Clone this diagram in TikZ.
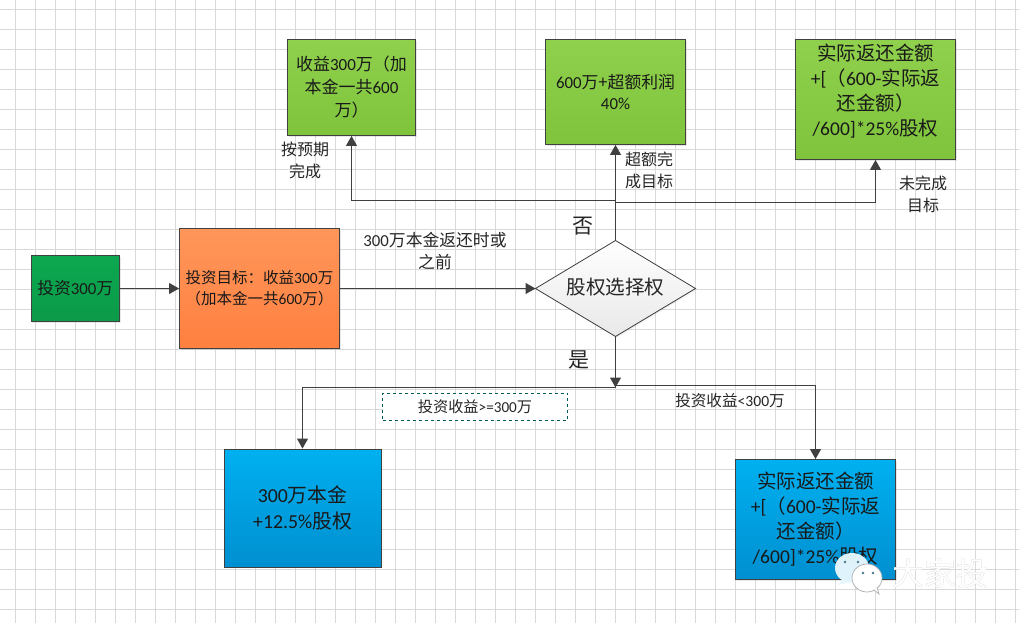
\documentclass[tikz,border=0pt]{standalone}
\usepackage{fontspec}
\setmainfont{Carlito}
\newfontfamily\cjkf{Noto Sans CJK SC}
\newcommand\C[1]{{\cjkf #1}}
\usetikzlibrary{arrows.meta,shadows}
\definecolor{gridc}{HTML}{D9D9D9}
\definecolor{linec}{HTML}{404040}
\definecolor{invT}{HTML}{0CA850}\definecolor{invB}{HTML}{0B9A49}
\definecolor{orgT}{HTML}{FF965A}\definecolor{orgB}{HTML}{FF8040}
\definecolor{grnT}{HTML}{8FD04C}\definecolor{grnB}{HTML}{7FC43C}
\definecolor{bluT}{HTML}{00B0F0}\definecolor{bluB}{HTML}{008FD0}
\tikzset{
  boxbase/.style={draw=linec,line width=0.9pt,inner sep=0pt,align=center,shape=rectangle,text=black!90,
    drop shadow={shadow xshift=1.2pt,shadow yshift=-1.2pt,opacity=0.18}},
  investbox/.style={boxbase,top color=invT,bottom color=invB},
  orangebox/.style={boxbase,top color=orgT,bottom color=orgB},
  greenbox/.style={boxbase,top color=grnT,bottom color=grnB},
  bluebox/.style={boxbase,top color=bluT,bottom color=bluB},
  conn/.style={draw=linec,line width=1pt,-{Triangle[length=10pt,width=11pt]}},
  lab/.style={inner sep=0pt,align=center,text=black!85,font=\fontsize{16}{22}\selectfont},
  bigmark/.style={inner sep=0pt,font=\fontsize{21}{22}\selectfont,text=black!85},
}
\begin{document}
\begin{tikzpicture}[x=1pt,y=-1pt]
\useasboundingbox (0,0) rectangle (1019,623);
\fill[white] (0,0) rectangle (1019,623);
\foreach \i in {0,...,50} \draw[gridc,line width=0.9pt] ({15.5+20*\i},0) -- ({15.5+20*\i},623);
\foreach \i in {0,...,30} \draw[gridc,line width=0.9pt] (0,{9.5+20*\i}) -- (1019,{9.5+20*\i});

\node[investbox,minimum width=88.5pt,minimum height=66pt,font=\fontsize{16.8}{22}\selectfont] (inv) at (75.25,288.5) {\C{投资}300\C{万}};
\node[orangebox,minimum width=160pt,minimum height=120pt,font=\fontsize{15.5}{21}\selectfont] (tgt) at (259.5,288.5) {\C{投资目标：收益}300\C{万}\\\C{（加本金一共}600\C{万）}};
\node[greenbox,minimum width=128pt,minimum height=96pt,font=\fontsize{17}{23}\selectfont] (g1) at (351.5,87.5) {\C{收益}300\C{万（加}\\\C{本金一共}600\\\C{万）}};
\node[greenbox,minimum width=140pt,minimum height=105pt,font=\fontsize{16.8}{21}\selectfont] (g2) at (615.5,92) {600\C{万+超额利润}\\40\%};
\node[greenbox,minimum width=160pt,minimum height=120pt,font=\fontsize{19.5}{25}\selectfont] (g3) at (875.5,99.5) {\C{实际返还金额}\\+[\C{（}600-\C{实际返}\\\C{还金额）}\\/600]*25\%\C{股权}\\[-6pt]\mbox{}};
\path[draw=linec,line width=0.8pt,top color=white,bottom color=gray!18,drop shadow={shadow xshift=1.2pt,shadow yshift=-1.2pt,opacity=0.12}] (535.5,288.5) -- (615.5,240.5) -- (695.5,288.5) -- (615.5,336.5) -- cycle;
\node[inner sep=0pt,font=\fontsize{19.6}{22}\selectfont,text=black!85] (dl) at (615.5,287) {\C{股权选择权}};
\coordinate (dW) at (535.5,288.5);
\coordinate (dN) at (615.5,240.5);
\coordinate (dS) at (615.5,336.5);
\node[bluebox,minimum width=157pt,minimum height=118pt,font=\fontsize{19.8}{26}\selectfont] (b1) at (302.5,508) {300\C{万本金}\\+12.5\%\C{股权}};
\node[bluebox,minimum width=160pt,minimum height=120pt,font=\fontsize{19.5}{25}\selectfont] (b2) at (815.5,519.5) {\C{实际返还金额}\\+[\C{（}600-\C{实际返}\\\C{还金额）}\\/600]*25\%\C{股权}};
\node[draw=teal!70!black,dashed,line width=0.8pt,fill=white,minimum width=185pt,minimum height=27pt,inner sep=0pt,font=\fontsize{15.2}{20}\selectfont,text=black!85] (dash) at (475,406.5) {\C{投资收益}>=300\C{万}};

\coordinate (jT) at (615.5,200.5);
\coordinate (jR) at (615.5,202.5);
\coordinate (jB) at (615.5,387.5);
\coordinate (jL) at (615.5,387.5);
\coordinate (jS) at (615.5,385.5);

\draw[conn] (inv) -- (tgt);
\draw[conn] (tgt) -- (dW);
\draw[conn] (dN) -- (g2.south);
\draw[conn] (jT) -| (g1.south);
\draw[conn] (jR) -| (g3.south);
\draw[conn] (dS) -- (jB);
\draw[conn] (jL) -| (b1.north);
\draw[conn] (jS) -| (b2.north);

\node[lab] (l1) at (305,160) {\C{按预期}\\\C{完成}};
\node[lab] (l2) at (649,170) {\C{超额完}\\\C{成目标}};
\node[lab] (l3) at (923,194) {\C{未完成}\\\C{目标}};
\node[lab,font=\fontsize{16.8}{22}\selectfont] (l4) at (435,251) {300\C{万本金返还时或}\\\C{之前}};
\node[bigmark] (no) at (583,226) {\C{否}};
\node[bigmark] (yes) at (579,360) {\C{是}};
\node[lab,font=\fontsize{15.6}{20}\selectfont] (l5) at (730,401) {\C{投资收益}<300\C{万}};

% watermark
\path[fill=cyan!10,fill opacity=0.97] (852,568) ellipse (17 and 15);
\path[fill=cyan!10,fill opacity=0.97] (843,579) -- (838,585) -- (850,582) -- cycle;
\path[fill=white,draw=gray!65,line width=0.7pt] (867,578) ellipse (15 and 14);
\path[fill=white,draw=gray!65,line width=0.7pt] (874,590) -- (879,594) -- (877,587);
\fill[cyan!50!black] (845,562) circle (1.4) (858,562) circle (1.4) (863,573) circle (1.3) (873,573) circle (1.3);
\node[inner sep=0pt,font=\fontsize{32}{34}\selectfont,text=gray!60] (wmS) at (940.7,573.7) {\C{大家投}};
\node[inner sep=0pt,font=\fontsize{32}{34}\selectfont,text=white] (wm) at (940,573) {\C{大家投}};
\end{tikzpicture}
\end{document}
